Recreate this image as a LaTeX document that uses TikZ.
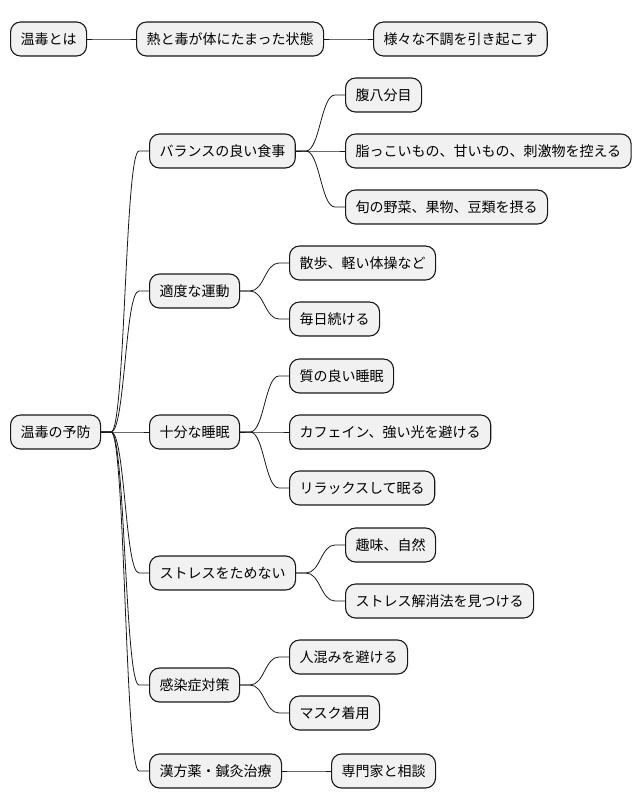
\documentclass[tikz,border=0pt]{standalone}
\usepackage{fontspec}
\setmainfont{Noto Sans CJK JP}
\usepackage{xcolor}
\usepackage{tikz}
\usetikzlibrary{positioning}

\definecolor{mmfill}{HTML}{F1F1F1}
\definecolor{mmline}{HTML}{181818}

% parent -> child connector
\newcommand{\mmbranch}[2]{\draw[link] (#1.east) -- ++(10,0) .. controls +(14,0) and +(-14,0) .. ([xshift=-10pt]#2.west) -- (#2.west);}

\begin{document}
\begin{tikzpicture}[
  x=1pt, y=-1pt,
  font=\fontsize{14}{16}\selectfont,
  topic/.style={draw=mmline, fill=mmfill, line width=1.1pt, rounded corners=10pt, minimum height=34pt, inner xsep=10pt, inner ysep=0pt, anchor=west},
  link/.style={mmline, line width=0.8pt}
]
\useasboundingbox (0,0) rectangle (642,809);
% first map
\node[topic] (ontoku) at (10,39) {温毒とは};
\node[topic] (jotai) at (136,39) {熱と毒が体にたまった状態};
\node[topic] (fucho) at (373,39) {様々な不調を引き起こす};
\mmbranch{ontoku}{jotai}
\mmbranch{jotai}{fucho}

% second map
\node[topic] (yobo) at (10,432) {温毒の予防};
\node[topic] (shokuji) at (149,151) {バランスの良い食事};
\node[topic] (undo) at (149,291) {適度な運動};
\node[topic] (suimin) at (149,432) {十分な睡眠};
\node[topic] (stress) at (149,573) {ストレスをためない};
\node[topic] (kansen) at (149,685) {感染症対策};
\node[topic] (kampo) at (149,771) {漢方薬・鍼灸治療};

\node[topic] (hara) at (345,95) {腹八分目};
\node[topic] (abura) at (345,151) {脂っこいもの、甘いもの、刺激物を控える};
\node[topic] (shun) at (345,207) {旬の野菜、果物、豆類を摂る};
\node[topic] (sampo) at (289,263) {散歩、軽い体操など};
\node[topic] (mainichi) at (289,319) {毎日続ける};
\node[topic] (shitsu) at (289,376) {質の良い睡眠};
\node[topic] (caffeine) at (289,432) {カフェイン、強い光を避ける};
\node[topic] (relax) at (289,488) {リラックスして眠る};
\node[topic] (shumi) at (345,545) {趣味、自然};
\node[topic] (kaisho) at (345,601) {ストレス解消法を見つける};
\node[topic] (hitogomi) at (289,657) {人混みを避ける};
\node[topic] (mask) at (289,713) {マスク着用};
\node[topic] (senmon) at (331,771) {専門家と相談};

\mmbranch{yobo}{shokuji}
\mmbranch{yobo}{undo}
\mmbranch{yobo}{suimin}
\mmbranch{yobo}{stress}
\mmbranch{yobo}{kansen}
\mmbranch{yobo}{kampo}
\mmbranch{shokuji}{hara}
\mmbranch{shokuji}{abura}
\mmbranch{shokuji}{shun}
\mmbranch{undo}{sampo}
\mmbranch{undo}{mainichi}
\mmbranch{suimin}{shitsu}
\mmbranch{suimin}{caffeine}
\mmbranch{suimin}{relax}
\mmbranch{stress}{shumi}
\mmbranch{stress}{kaisho}
\mmbranch{kansen}{hitogomi}
\mmbranch{kansen}{mask}
\mmbranch{kampo}{senmon}
\end{tikzpicture}
\end{document}
